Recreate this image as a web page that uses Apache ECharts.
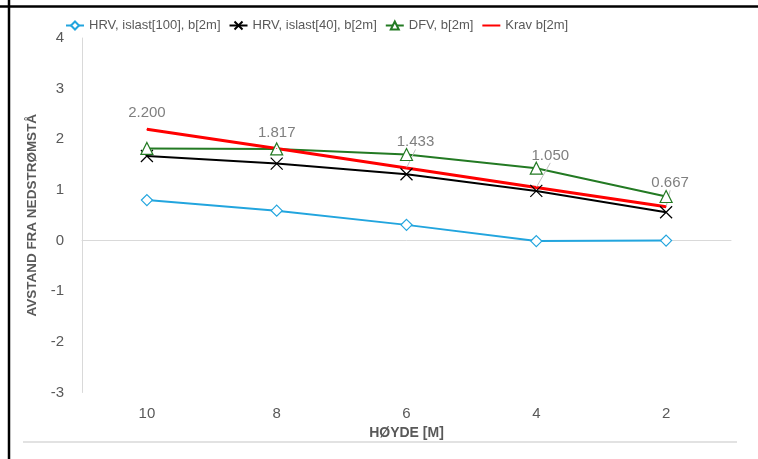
<!DOCTYPE html>
<html>
<head>
<meta charset="utf-8">
<script src="https://cdn.jsdelivr.net/npm/echarts@6/dist/echarts.min.js"></script>
<style>
html,body{margin:0;padding:0;background:#fff;}
#chart{width:758px;height:459px;}
</style>
</head>
<body>
<div id="chart"></div>
<script>
// ---- data ----
const categories = ['10', '8', '6', '4', '2'];
const hrvIslast100 = [0.80, 0.59, 0.31, -0.01, 0.00];
const hrvIslast40 = [1.67, 1.52, 1.31, 0.98, 0.56];
const dfv = [1.82, 1.81, 1.70, 1.43, 0.87];
const krav = [2.200, 1.817, 1.433, 1.050, 0.667];
const seriesNames = ['HRV, islast[100], b[2m]', 'HRV, islast[40], b[2m]', 'DFV, b[2m]', 'Krav b[2m]'];
const yMin = -3, yMax = 4, yStep = 1;

// ---- style-only helpers (label nudges) ----
const kravLabelNudge = [[0, -3.5], [0, -3], [9, -13], [14, -19], [4, -11]];
const kravLeader = [false, false, true, true, true];

const regular = '"Liberation Sans", Arial, sans-serif';

const chart = echarts.init(document.getElementById('chart'), null, {renderer: 'canvas'});

const xPath = 'path://M0,0L10,10M10,0L0,10';

chart.setOption({
  animation: false,
  backgroundColor: '#ffffff',
  grid: {left: 82, right: 27, top: 38, bottom: 66.5, containLabel: false},
  legend: {
    left: 60, top: 14,
    itemWidth: 18, itemHeight: 10, itemGap: 8,
    textStyle: {color: '#595959', fontSize: 13, fontFamily: regular},
    data: [
      {name: seriesNames[0]},
      {name: seriesNames[1]},
      {name: seriesNames[2]},
      {name: seriesNames[3], itemStyle: {opacity: 0}}
    ]
  },
  xAxis: [{
    type: 'category',
    data: categories,
    boundaryGap: true,
    axisLine: {show: false, onZero: false},
    axisTick: {show: false},
    axisLabel: {color: '#595959', fontSize: 15, fontFamily: regular, margin: 14},
    name: 'HØYDE [M]',
    nameLocation: 'middle',
    nameGap: 32,
    nameTextStyle: {color: '#595959', fontSize: 14, fontWeight: 'bold', fontFamily: regular}
  }, {
    type: 'category',
    data: categories,
    position: 'bottom',
    boundaryGap: true,
    axisLine: {show: true, onZero: true, lineStyle: {color: '#d9d9d9', width: 1}},
    axisTick: {show: false},
    axisLabel: {show: false}
  }],
  yAxis: {
    type: 'value',
    min: yMin, max: yMax, interval: yStep,
    axisLine: {show: true, lineStyle: {color: '#d9d9d9', width: 1}},
    axisTick: {show: false},
    splitLine: {show: false},
    axisLabel: {color: '#595959', fontSize: 15, fontFamily: regular, margin: 18},
    name: 'AVSTAND FRA NEDSTRØMSTÅ',
    nameLocation: 'middle',
    nameGap: 40,
    nameTextStyle: {color: '#595959', fontSize: 13.5, fontWeight: 'bold', fontFamily: regular}
  },
  series: [{
    name: seriesNames[0],
    type: 'line',
    data: hrvIslast100,
    symbol: 'diamond',
    symbolSize: 11,
    showAllSymbol: true,
    lineStyle: {color: '#22a5de', width: 2},
    itemStyle: {color: '#ffffff', borderColor: '#22a5de', borderWidth: 1.2}
  }, {
    name: seriesNames[1],
    type: 'line',
    data: hrvIslast40,
    symbol: xPath,
    symbolSize: 12,
    lineStyle: {color: '#000000', width: 2},
    itemStyle: {color: '#000000', borderColor: '#000000', borderWidth: 1.2}
  }, {
    name: seriesNames[2],
    type: 'line',
    data: dfv,
    symbol: 'triangle',
    symbolSize: 12,
    lineStyle: {color: '#237a23', width: 2},
    itemStyle: {color: '#ffffff', borderColor: '#237a23', borderWidth: 1.2}
  }, {
    name: seriesNames[3],
    type: 'line',
    data: krav.map((v, i) => ({
      value: v,
      labelLine: {show: kravLeader[i]}
    })),
    symbol: 'circle',
    symbolSize: 1,
    showSymbol: true,
    showAllSymbol: true,
    lineStyle: {color: '#ff0000', width: 3},
    itemStyle: {color: '#ff0000'},
    label: {
      show: true,
      position: 'top',
      color: '#7f7f7f',
      fontSize: 15,
      fontFamily: regular,
      formatter: p => Number(p.value).toFixed(3)
    },
    labelLine: {show: false, lineStyle: {color: '#bfbfbf', width: 1}},
    labelLayout: p => ({dx: kravLabelNudge[p.dataIndex][0], dy: kravLabelNudge[p.dataIndex][1]})
  }],
  graphic: [
    {type: 'line', silent: true, shape: {x1: 9, y1: 0, x2: 9, y2: 459}, style: {stroke: '#000', lineWidth: 2.5}},
    {type: 'line', silent: true, shape: {x1: 0, y1: 6.5, x2: 758, y2: 6.5}, style: {stroke: '#000', lineWidth: 2.5}},
    {type: 'line', silent: true, shape: {x1: 23, y1: 442, x2: 737, y2: 442}, style: {stroke: '#d9d9d9', lineWidth: 1.5}}
  ]
});
</script>
</body>
</html>
